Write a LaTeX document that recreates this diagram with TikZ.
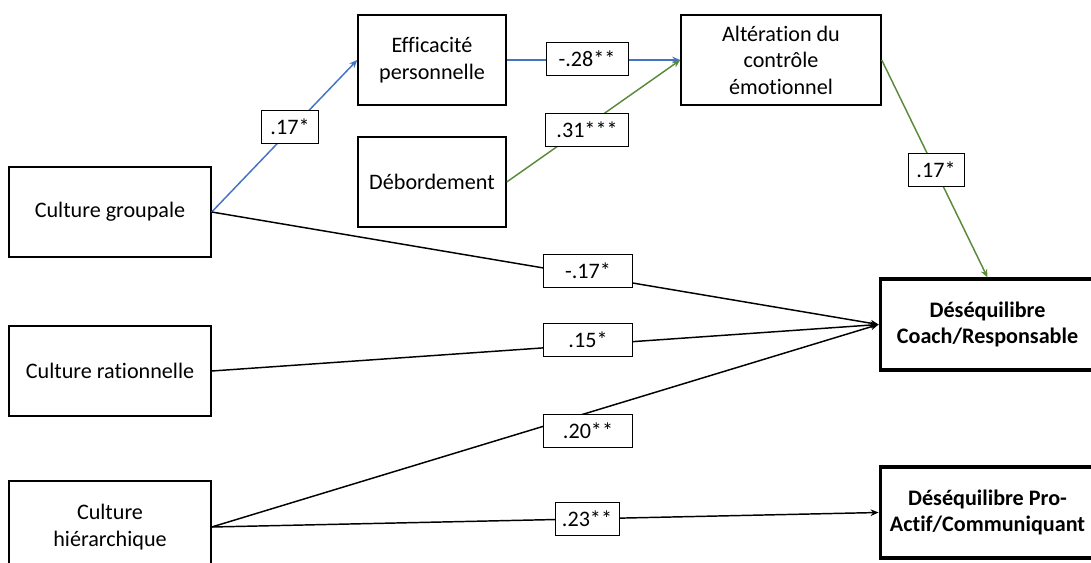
\documentclass[tikz,border=0pt]{standalone}
\usepackage{fontspec}
\setmainfont[Ligatures={NoCommon}]{Carlito}
\usetikzlibrary{arrows.meta}
\definecolor{effblue}{HTML}{4472C4}
\definecolor{emogreen}{HTML}{5A8A3A}
\begin{document}
\begin{tikzpicture}[x=0.75pt,y=-0.75pt,
  var/.style={draw, line width=1.1pt, align=center, inner sep=0pt,
    font=\fontsize{16.6}{19.8}\selectfont},
  outcome/.style={var, line width=2.4pt,
    font=\fontsize{16.6}{19.8}\selectfont\bfseries},
  coef/.style={draw, fill=white, line width=0.75pt, minimum height=24.75pt,
    inner sep=0pt, font=\fontsize{16.6}{19.8}\selectfont},
  link/.style={line width=1.1pt, -{Stealth[length=6pt,width=5pt]}},
  bluelink/.style={link, draw=effblue},
  greenlink/.style={link, draw=emogreen},
]
\useasboundingbox (0,0) rectangle (1091,563);
\clip (0,0) rectangle (1091,563);

% predictor boxes
\node[var, minimum width=151.5pt, minimum height=67.5pt] (grp) at (110,212) {Culture groupale};
\node[var, minimum width=151.5pt, minimum height=67.5pt] (rat) at (110,371) {Culture rationnelle};
\node[var, minimum width=151.5pt, minimum height=69pt] (hie) at (110,527) {Culture\\hiérarchique};

% mediators
\node[var, minimum width=111pt, minimum height=67.5pt] (eff) at (432,60) {Efficacité\\personnelle};
\node[var, minimum width=111pt, minimum height=67.5pt] (deb) at (432,182) {Débordement};
\node[var, minimum width=150pt, minimum height=67.5pt] (alt) at (781,60) {Altération du\\contrôle\\émotionnel};

% outcomes
\node[outcome, minimum width=161pt, minimum height=68.25pt] (coach) at (987.5,324.5) {Déséquilibre\\Coach/Responsable};
\node[outcome, minimum width=161pt, minimum height=68.25pt] (pro) at (987.5,512.5) {Déséquilibre Pro-\\Actif/Communiquant};

% paths
\draw[bluelink] (grp.east) -- (eff.west);
\draw[bluelink] (eff.east) -- (alt.west);
\draw[greenlink] (deb.east) -- (alt.west);
\draw[greenlink] (alt.east) -- (coach.north);
\draw[link] (grp.east) -- (coach.west);
\draw[link] (rat.east) -- (coach.west);
\draw[link] (hie.east) -- (coach.west);
\draw[link] (hie.east) -- (pro.west);

% coefficients
\node[coef, minimum width=42.75pt] (c1) at (290,127) {.17*};
\node[coef, minimum width=61.5pt] (c2) at (587,59) {-.28**};
\node[coef, minimum width=62pt] (c3) at (587,130) {.31***};
\node[coef, minimum width=42pt] (c4) at (936,170) {.17*};
\node[coef, minimum width=66.75pt] (c5) at (588,271) {-.17*};
\node[coef, minimum width=66.75pt] (c6) at (588,340) {.15*};
\node[coef, minimum width=66.75pt] (c7) at (588,431) {.20**};
\node[coef, minimum width=48pt] (c8) at (587,519) {.23**};
\end{tikzpicture}
\end{document}
